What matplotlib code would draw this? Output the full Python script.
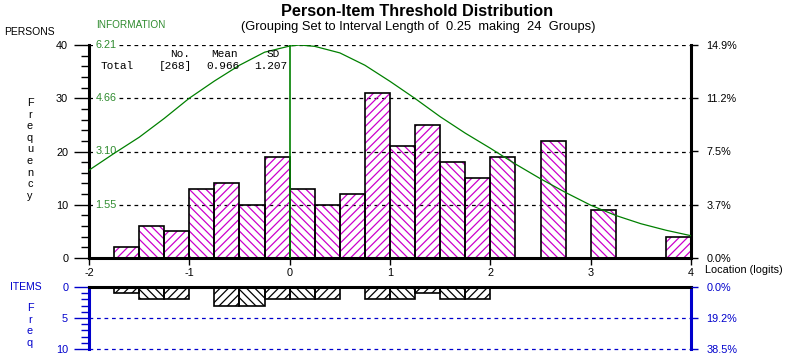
import matplotlib
matplotlib.use("Agg")
import matplotlib.pyplot as plt
import numpy as np

# ---------------- data ----------------
bin_left = [-2.0, -1.75, -1.5, -1.25, -1.0, -0.75, -0.5, -0.25, 0.0, 0.25, 0.5, 0.75,
            1.0, 1.25, 1.5, 1.75, 2.0, 2.25, 2.5, 2.75, 3.0, 3.25, 3.5, 3.75]
person_counts = [0, 2, 6, 5, 13, 14, 10, 19, 13, 10, 12, 31,
                 21, 25, 18, 15, 19, 0, 22, 0, 9, 0, 0, 4]
item_counts = [0, 1, 2, 2, 0, 3, 3, 2, 2, 2, 0, 2,
               2, 1, 2, 2, 0, 0, 0, 0, 0, 0, 0, 0]
info_x = [-2.0, -1.75, -1.5, -1.25, -1.0, -0.75, -0.5, -0.25, 0.0, 0.1, 0.25, 0.5, 0.75,
          1.0, 1.25, 1.5, 1.75, 2.0, 2.25, 2.5, 2.75, 3.0, 3.25, 3.5, 3.75, 4.0]
info_y = [2.56, 3.05, 3.52, 4.07, 4.66, 5.16, 5.62, 6.00, 6.18, 6.21, 6.17, 5.98, 5.62,
          5.15, 4.65, 4.12, 3.64, 3.20, 2.74, 2.31, 1.91, 1.54, 1.24, 1.00, 0.81, 0.65]
n_persons = 268
n_items = 26
person_mean = 0.966
person_sd = 1.207
info_max = 6.21
x_ticks = [-2, -1, 0, 1, 2, 3, 4]
person_yticks = [0, 10, 20, 30, 40]
item_yticks = [0, 5, 10]

# hatch styles (visual only)
F = '////'
B = '\\\\\\\\'
person_hatch = [F, F, B, F, B, F, B, F, B, B, F, F, B, F, B, F, B, F, B, F, B, F, F, F]
item_hatch = [F, F, B, F, F, F, B, F, B, F, F, F, B, F, B, F, F, F, F, F, F, F, F, F]

plt.rcParams['font.family'] = ['Liberation Sans', 'DejaVu Sans']
plt.rcParams['hatch.linewidth'] = 0.9

W, H = 786, 358
fig = plt.figure(figsize=(W / 100, H / 100), dpi=100)

def fx(px):
    return px / W

def fy(py):
    return 1 - py / H

MAG = '#CC00CC'
GREEN = '#008000'
LGREEN = '#2E8B2E'
BLUE = '#0000CC'
BW = 0.25
FS = 7.8

# ---------------- main axes ----------------
ax = fig.add_axes([fx(89), fy(258), fx(691) - fx(89), fy(45) - fy(258)])
ax.set_xlim(-2, 4)
ax.set_ylim(0, 40)

for xl, c, h in zip(bin_left, person_counts, person_hatch):
    if c > 0:
        ax.bar(xl, c, width=BW, align='edge', color='none', edgecolor=MAG,
               hatch=h, linewidth=0, zorder=2)
        ax.bar(xl, c, width=BW, align='edge', color='none', edgecolor='black',
               linewidth=1.2, zorder=3)

for yv in person_yticks[1:]:
    ax.axhline(yv, color='black', linestyle=(0, (3, 3)), linewidth=0.9, zorder=1)

# information curve (scaled to frequency axis)
scale = person_yticks[-1] / info_max
ax.plot(info_x, [v * scale for v in info_y], color=GREEN, linewidth=0.9, zorder=5)
ax.plot([0, 0], [0, 40], color=GREEN, linewidth=1.2, zorder=5)

info_labels = ['1.55', '3.10', '4.66', '6.21']
for yv, lab in zip(person_yticks[1:], info_labels):
    ax.text(-1.935, yv, lab, color=LGREEN, fontsize=FS, va='center', ha='left',
            bbox=dict(facecolor='white', edgecolor='none', pad=1.5), zorder=4)

ax.spines['top'].set_visible(False)
for s in ['left', 'right', 'bottom']:
    ax.spines[s].set_linewidth(2.2)
    ax.spines[s].set_color('black')

ax.set_xticks(x_ticks)
ax.set_xticklabels([str(t) for t in x_ticks], fontsize=FS)
ax.tick_params(axis='x', direction='out', length=5, width=1, pad=2)
ax.set_yticks(person_yticks)
ax.set_yticklabels([str(t) for t in person_yticks], fontsize=FS)
ax.set_yticks(np.arange(0, 41, 2), minor=True)
ax.tick_params(axis='y', which='major', direction='out', length=11, width=1, pad=4)
ax.tick_params(axis='y', which='minor', direction='out', length=6, width=1)

axr = ax.twinx()
axr.set_ylim(0, 40)
axr.set_yticks(person_yticks)
axr.set_yticklabels(['%.1f%%' % (100 * t / n_persons) for t in person_yticks], fontsize=FS)
axr.tick_params(axis='y', direction='out', length=5, width=1, pad=6)
for s in ['top', 'left', 'bottom', 'right']:
    axr.spines[s].set_visible(False)

# stats box
mono = dict(family=['Liberation Mono', 'DejaVu Sans Mono'], fontsize=8, color='black')
fig.text(fx(170), fy(54), 'No.', va='center', ha='left', **mono)
fig.text(fx(211), fy(54), 'Mean', va='center', ha='left', **mono)
fig.text(fx(267), fy(54), 'SD', va='center', ha='left', **mono)
fig.text(fx(101), fy(66), 'Total', va='center', ha='left', **mono)
fig.text(fx(159), fy(66), '[%d]' % n_persons, va='center', ha='left', **mono)
fig.text(fx(206), fy(66), '%.3f' % person_mean, va='center', ha='left', **mono)
fig.text(fx(254), fy(66), '%.3f' % person_sd, va='center', ha='left', **mono)

# ---------------- items axes ----------------
bx = fig.add_axes([fx(89), fy(349), fx(691) - fx(89), fy(287) - fy(349)])
bx.set_xlim(-2, 4)
bx.set_ylim(10, 0)
for xl, c, h in zip(bin_left, item_counts, item_hatch):
    if c > 0:
        bx.bar(xl, c, width=BW, align='edge', color='none', edgecolor='black',
               hatch=h, linewidth=1.2, zorder=3)
for yv in item_yticks[1:]:
    bx.axhline(yv, color=BLUE, linestyle=(0, (3, 3)), linewidth=0.9, zorder=1, clip_on=False)
bx.spines['bottom'].set_visible(False)
bx.spines['top'].set_linewidth(2.2)
bx.spines['top'].set_color('black')
for s in ['left', 'right']:
    bx.spines[s].set_linewidth(2.2)
    bx.spines[s].set_color(BLUE)
bx.set_xticks([])
bx.set_yticks(item_yticks)
bx.set_yticklabels([str(t) for t in item_yticks], fontsize=FS, color=BLUE)
bx.set_yticks(np.arange(0, 11, 1), minor=True)
bx.tick_params(axis='y', which='major', direction='out', length=11, width=1, color=BLUE, pad=4)
bx.tick_params(axis='y', which='minor', direction='out', length=6, width=1, color=BLUE)

bxr = bx.twinx()
bxr.set_ylim(10, 0)
bxr.set_yticks(item_yticks)
bxr.set_yticklabels(['%.1f%%' % (100 * t / n_items) for t in item_yticks], fontsize=FS, color=BLUE)
bxr.tick_params(axis='y', direction='out', length=5, width=1, color=BLUE, pad=6)
for s in ['top', 'left', 'bottom', 'right']:
    bxr.spines[s].set_visible(False)

# ---------------- texts ----------------
fig.text(fx(417), fy(11), 'Person-Item Threshold Distribution', ha='center', va='center',
         fontsize=11.7, fontweight='bold')
fig.text(fx(418), fy(27), '(Grouping Set to Interval Length of  0.25  making  24  Groups)',
         ha='center', va='center', fontsize=9.3)
fig.text(fx(4), fy(32), 'PERSONS', ha='left', va='center', fontsize=7.5)
fig.text(fx(96), fy(25), 'INFORMATION', ha='left', va='center', fontsize=7.2, color=LGREEN)
fig.text(fx(30), fy(98), '\n'.join('Frequency'), ha='center', va='top', fontsize=FS,
         linespacing=1.2)
fig.text(fx(705), fy(270), 'Location (logits)', ha='left', va='center', fontsize=FS)
fig.text(fx(10), fy(287), 'ITEMS', ha='left', va='center', fontsize=7.5, color=BLUE)
fig.text(fx(30), fy(303), '\n'.join('Freq'), ha='center', va='top', fontsize=FS,
         color=BLUE, linespacing=1.2)

fig.savefig('out.png', dpi=100)
